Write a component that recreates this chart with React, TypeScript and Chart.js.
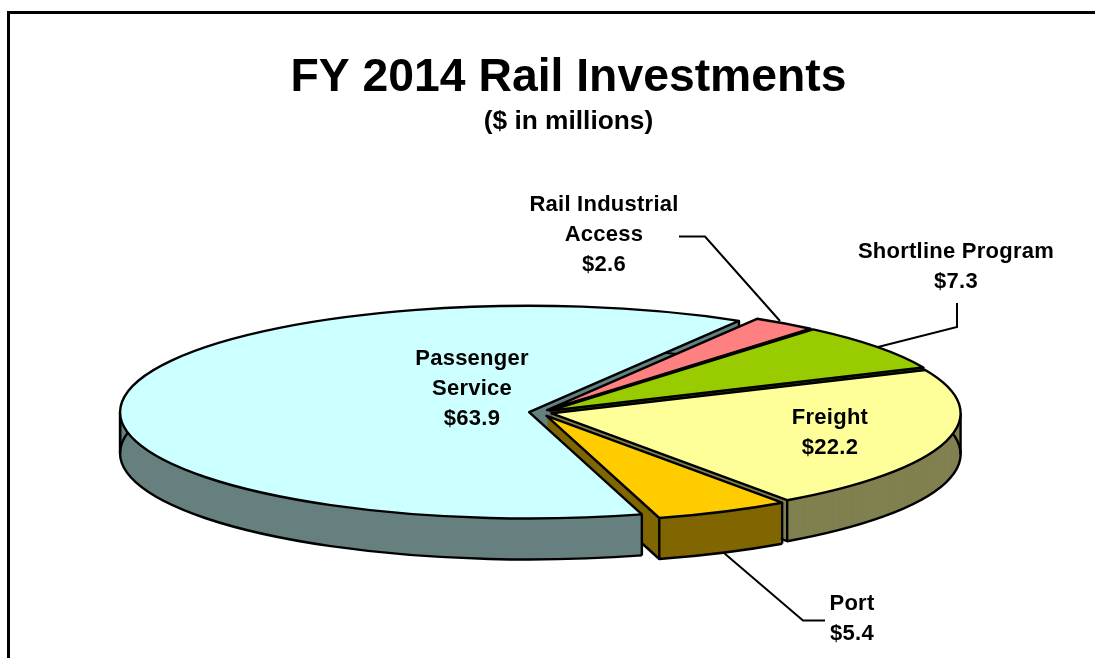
import React, { useEffect, useRef } from "react";
import { Chart, registerables } from "chart.js";

Chart.register(...registerables);

const categories = ["Passenger Service", "Rail Industrial Access", "Shortline Program", "Freight", "Port"];
const values = [63.9, 2.6, 7.3, 22.2, 5.4];
const labelLines = [["Passenger", "Service"], ["Rail Industrial", "Access"], ["Shortline Program"], ["Freight"], ["Port"]];
const topColors = ["#CCFFFF", "#FF8080", "#99CC00", "#FFFF99", "#FFCC00"];
const wallColors = ["#668080", "#804040", "#4D6600", "#808050", "#806600"];
const labelCenters = [[472, 359], [604, 205], [956, 252], [830, 418], [852, 604]];
const leaderLines = [
  null,
  [[679, 236.5], [705, 236.5], [780, 321]],
  [[957, 303], [957, 327], [878, 347]],
  null,
  [[724, 553], [803, 620.5], [825, 620.5]],
];

const FONT = '"Liberation Sans", Arial, sans-serif';
const PIE_X = 540.5;
const PIE_Y = 412.5;
const RADIUS = 409;
const SQUASH = 0.26;
const DEPTH = 41;
const EXPLODE = 11.5;
const EXPLODE_PORT = 14;

const piePlugin = {
  id: "pie3d",
  beforeDraw(chart: any) {
    const { ctx, width, height } = chart;
    ctx.save();
    ctx.fillStyle = "#fff";
    ctx.fillRect(0, 0, width, height);
    ctx.strokeStyle = "#000";
    ctx.lineWidth = 3;
    ctx.beginPath();
    ctx.moveTo(8.5, height);
    ctx.lineTo(8.5, 12.5);
    ctx.lineTo(width, 12.5);
    ctx.stroke();
    ctx.restore();
  },
  beforeDatasetDraw() {
    return false;
  },
  afterDatasetsDraw(chart: any) {
    const { ctx } = chart;
    const arcs: any[] = chart.getDatasetMeta(0).data;

    const setTransform = (arc: any, i: number, d: number) => {
      const mid = (arc.startAngle + arc.endAngle) / 2;
      const e = i === 4 ? EXPLODE_PORT : EXPLODE;
      ctx.translate(PIE_X, PIE_Y + d);
      ctx.scale(1, SQUASH);
      ctx.translate(-arc.x + Math.cos(mid) * e, -arc.y + Math.sin(mid) * e);
    };

    const strokeUnder = (arc: any, i: number, d: number, build: () => void) => {
      ctx.save();
      setTransform(arc, i, d);
      ctx.beginPath();
      build();
      ctx.restore();
      ctx.strokeStyle = "#000";
      ctx.lineWidth = 2.4;
      ctx.lineJoin = "round";
      ctx.stroke();
    };

    const wedge = (arc: any) => () => {
      ctx.moveTo(arc.x, arc.y);
      ctx.arc(arc.x, arc.y, arc.outerRadius, arc.startAngle, arc.endAngle);
      ctx.closePath();
    };

    const verticalAt = (arc: any, i: number, angle: number) => {
      const px = arc.x + Math.cos(angle) * arc.outerRadius;
      const py = arc.y + Math.sin(angle) * arc.outerRadius;
      strokeUnder(arc, i, 0, () => {
        ctx.moveTo(px, py);
        ctx.lineTo(px, py + DEPTH / SQUASH);
      });
    };

    const edgeVerticals = (arc: any, i: number) => {
      verticalAt(arc, i, arc.startAngle);
      verticalAt(arc, i, arc.endAngle);
      for (let k = 0; k <= 4; k++) {
        const a = k * Math.PI;
        if (a > arc.startAngle && a < arc.endAngle) verticalAt(arc, i, a);
      }
    };

    const drawWall = (i: number) => {
      const arc = arcs[i];
      const original = arc.options;
      arc.options = { ...original, backgroundColor: wallColors[i] };
      for (let d = DEPTH; d >= 1; d--) {
        ctx.save();
        setTransform(arc, i, d);
        arc.draw(ctx);
        ctx.restore();
      }
      arc.options = original;
      // Bottom outline: the rim and the trailing radial edge; the leading edge faces away.
      if (i !== 0) {
        strokeUnder(arc, i, DEPTH, () => {
          ctx.arc(arc.x, arc.y, arc.outerRadius, arc.startAngle, arc.endAngle);
          ctx.lineTo(arc.x, arc.y);
        });
      }
      edgeVerticals(arc, i);
    };

    const drawTop = (i: number) => {
      const arc = arcs[i];
      ctx.save();
      setTransform(arc, i, 0);
      arc.draw(ctx);
      ctx.restore();
      strokeUnder(arc, i, 0, wedge(arc));
    };

    const drawOuterBand = (i: number) => {
      const arc = arcs[i];
      ctx.save();
      setTransform(arc, i, 0);
      ctx.beginPath();
      ctx.arc(arc.x, arc.y, arc.outerRadius, arc.startAngle, arc.endAngle);
      ctx.arc(arc.x, arc.y + DEPTH / SQUASH, arc.outerRadius, arc.endAngle, arc.startAngle, true);
      ctx.closePath();
      ctx.fillStyle = wallColors[i];
      ctx.fill();
      ctx.restore();
      strokeUnder(arc, i, DEPTH, () => ctx.arc(arc.x, arc.y, arc.outerRadius, arc.startAngle, arc.endAngle));
      edgeVerticals(arc, i);
    };

    // Walls back to front, then the large slice's rim and top hide what lies behind them.
    drawWall(0);
    drawWall(1);
    drawWall(2);
    drawWall(3);
    drawWall(4);
    drawOuterBand(0);
    drawTop(0);
    drawTop(1);
    drawTop(2);
    drawTop(3);
    drawTop(4);

    ctx.save();
    ctx.strokeStyle = "#000";
    ctx.lineWidth = 2;
    ctx.lineJoin = "miter";
    leaderLines.forEach((line) => {
      if (!line) return;
      ctx.beginPath();
      line.forEach(([x, y], j) => (j === 0 ? ctx.moveTo(x, y) : ctx.lineTo(x, y)));
      ctx.stroke();
    });
    ctx.fillStyle = "#000";
    ctx.font = `bold 22px ${FONT}`;
    ctx.textAlign = "center";
    ctx.textBaseline = "middle";
    (ctx as any).letterSpacing = "0.25px";
    categories.forEach((_, i) => {
      const [x, y] = labelCenters[i];
      const lines = [...labelLines[i], "$" + values[i].toFixed(1)];
      lines.forEach((t, j) => ctx.fillText(t, x, y + j * 29.8));
    });
    ctx.restore();
  },
};

export default function App() {
  const ref = useRef<HTMLCanvasElement>(null);
  useEffect(() => {
    const chart = new Chart(ref.current as any, {
      type: "pie",
      data: {
        labels: categories,
        datasets: [{ data: values, backgroundColor: topColors, borderWidth: 0 }],
      },
      options: {
        animation: false,
        responsive: false,
        events: [],
        rotation: 164,
        radius: RADIUS,
        layout: { padding: { left: 42 } },
        plugins: {
          legend: { display: false },
          tooltip: { enabled: false },
          title: {
            display: true,
            text: "FY 2014 Rail Investments",
            color: "#000",
            font: { family: FONT, size: 46.3, weight: "bold" },
            padding: { top: 50, bottom: 0 },
          },
          subtitle: {
            display: true,
            text: "($ in millions)",
            color: "#000",
            font: { family: FONT, size: 26.3, weight: "bold" },
            padding: 0,
          },
        },
      },
      plugins: [piePlugin],
    } as any);
    return () => chart.destroy();
  }, []);
  return (
    <div style={{ position: "absolute", left: 0, top: 0 }}>
      <canvas ref={ref} width={1095} height={658} style={{ display: "block" }} />
    </div>
  );
}
